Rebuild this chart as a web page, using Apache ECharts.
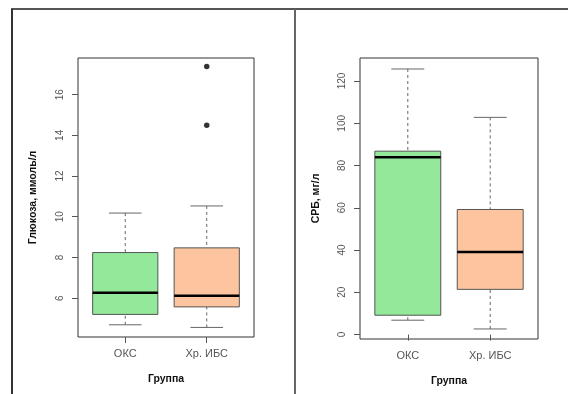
<!DOCTYPE html>
<html>
<head>
<meta charset="utf-8">
<script src="https://cdn.jsdelivr.net/npm/echarts@6/dist/echarts.min.js"></script>
<style>
html,body{margin:0;padding:0;background:#fff;}
#chart{width:568px;height:394px;}
</style>
</head>
<body>
<div id="chart"></div>
<script>
// Categories and tick labels
var categories = ['ОКС', 'Хр. ИБС'];
var glucoseTicks = [6, 8, 10, 12, 14, 16];
var crpTicks = [0, 20, 40, 60, 80, 100, 120];

// Box stats: [lower whisker, Q1, median, Q3, upper whisker]
var glucoseOKS = [4.69, 5.2, 6.27, 8.24, 10.18];
var glucoseIBS = [4.56, 5.57, 6.12, 8.47, 10.53];
var glucoseOutliersIBS = [17.38, 14.5];

var crpOKS = [6.8, 9.15, 83.9, 86.8, 125.7];
var crpIBS = [2.65, 21.4, 39.05, 59.2, 102.8];

var boxColors = ['#93e899', '#fdc59f'];

function boxRows(a, b) {
  return [[1].concat(a), [2].concat(b)];
}

function renderBox(params, api) {
  var x = api.value(0);
  var lo = api.value(1), q1 = api.value(2), md = api.value(3), q3 = api.value(4), hi = api.value(5);
  var hw = 0.4, cw = 0.2;
  var pTL = api.coord([x - hw, q3]);
  var pBR = api.coord([x + hw, q1]);
  var pMidL = api.coord([x - hw, md]);
  var pMidR = api.coord([x + hw, md]);
  var pHi = api.coord([x, hi]);
  var pLo = api.coord([x, lo]);
  var pQ3 = api.coord([x, q3]);
  var pQ1 = api.coord([x, q1]);
  var capHL = api.coord([x - cw, hi]), capHR = api.coord([x + cw, hi]);
  var capLL = api.coord([x - cw, lo]), capLR = api.coord([x + cw, lo]);
  var wStyle = {stroke: '#666', lineWidth: 1, lineDash: [3, 3]};
  var cStyle = {stroke: '#666', lineWidth: 1};
  return {
    type: 'group',
    children: [
      {type: 'line', shape: {x1: pHi[0], y1: pHi[1], x2: pQ3[0], y2: pQ3[1]}, style: wStyle},
      {type: 'line', shape: {x1: pLo[0], y1: pLo[1], x2: pQ1[0], y2: pQ1[1]}, style: wStyle},
      {type: 'line', shape: {x1: capHL[0], y1: capHL[1], x2: capHR[0], y2: capHR[1]}, style: cStyle},
      {type: 'line', shape: {x1: capLL[0], y1: capLL[1], x2: capLR[0], y2: capLR[1]}, style: cStyle},
      {type: 'rect', shape: {x: pTL[0], y: pTL[1], width: pBR[0] - pTL[0], height: pBR[1] - pTL[1]},
        style: {fill: boxColors[params.dataIndex], stroke: '#555', lineWidth: 1}},
      {type: 'line', shape: {x1: pMidL[0], y1: pMidL[1], x2: pMidR[0], y2: pMidR[1]},
        style: {stroke: '#000', lineWidth: 2.5}}
    ]
  };
}

var xLabelStyle = {color: '#555', fontFamily: 'Liberation Sans, Arial, sans-serif', fontSize: 11};
var yLabelStyle = {color: '#555', fontFamily: 'Liberation Sans, Arial, sans-serif', fontSize: 10};
var nameStyle = {color: '#111', fontFamily: 'Liberation Sans, Arial, sans-serif', fontSize: 10.5, fontWeight: 'bold'};

function xAxisFor(gi) {
  return {
    type: 'value', gridIndex: gi, min: 0.42, max: 2.58,
    name: 'Группа', nameLocation: 'middle', nameGap: 37, nameTextStyle: nameStyle,
    axisLine: {show: false},
    splitLine: {show: false},
    axisTick: {show: true, length: 6, customValues: [1, 2], lineStyle: {color: '#555'}},
    axisLabel: Object.assign({customValues: [1, 2], margin: 11,
      formatter: function (v) { return categories[Math.round(v) - 1]; }}, xLabelStyle)
  };
}

function yAxisFor(gi, name, min, max, ticks, gap) {
  return {
    type: 'value', gridIndex: gi, min: min, max: max,
    name: name, nameLocation: 'middle', nameGap: gap, nameRotate: 90, nameTextStyle: nameStyle,
    axisLine: {show: false},
    splitLine: {show: false},
    axisTick: {show: true, length: 6, customValues: ticks, lineStyle: {color: '#555'}},
    axisLabel: Object.assign({customValues: ticks, rotate: 90, margin: 13}, yLabelStyle)
  };
}

var chart = echarts.init(document.getElementById('chart'), null, {renderer: 'canvas'});
chart.setOption({
  backgroundColor: '#fff',
  animation: false,
  grid: [
    {left: 78, top: 58, width: 176, height: 279, show: true, borderColor: '#333', borderWidth: 1, backgroundColor: 'transparent'},
    {left: 360, top: 58, width: 178, height: 281, show: true, borderColor: '#333', borderWidth: 1, backgroundColor: 'transparent'}
  ],
  xAxis: [xAxisFor(0), xAxisFor(1)],
  yAxis: [
    yAxisFor(0, 'Глюкоза, ммоль/л', 4.09, 17.8, glucoseTicks, 39),
    yAxisFor(1, 'СРБ, мг/л', -2.1, 130.9, crpTicks, 38)
  ],
  series: [
    {type: 'custom', xAxisIndex: 0, yAxisIndex: 0, renderItem: renderBox,
      encode: {x: 0, y: [1, 2, 3, 4, 5]}, data: boxRows(glucoseOKS, glucoseIBS)},
    {type: 'scatter', xAxisIndex: 0, yAxisIndex: 0, symbolSize: 5.5,
      itemStyle: {color: '#000'},
      data: glucoseOutliersIBS.map(function (v) { return [2, v]; })},
    {type: 'custom', xAxisIndex: 1, yAxisIndex: 1, renderItem: renderBox,
      encode: {x: 0, y: [1, 2, 3, 4, 5]}, data: boxRows(crpOKS, crpIBS)}
  ],
  graphic: [
    {type: 'line', shape: {x1: 11, y1: 9, x2: 568, y2: 9}, style: {stroke: '#555', lineWidth: 2}},
    {type: 'line', shape: {x1: 12, y1: 9, x2: 12, y2: 394}, style: {stroke: '#333', lineWidth: 2}},
    {type: 'line', shape: {x1: 295, y1: 9, x2: 295, y2: 394}, style: {stroke: '#666', lineWidth: 2}}
  ]
});
</script>
</body>
</html>
